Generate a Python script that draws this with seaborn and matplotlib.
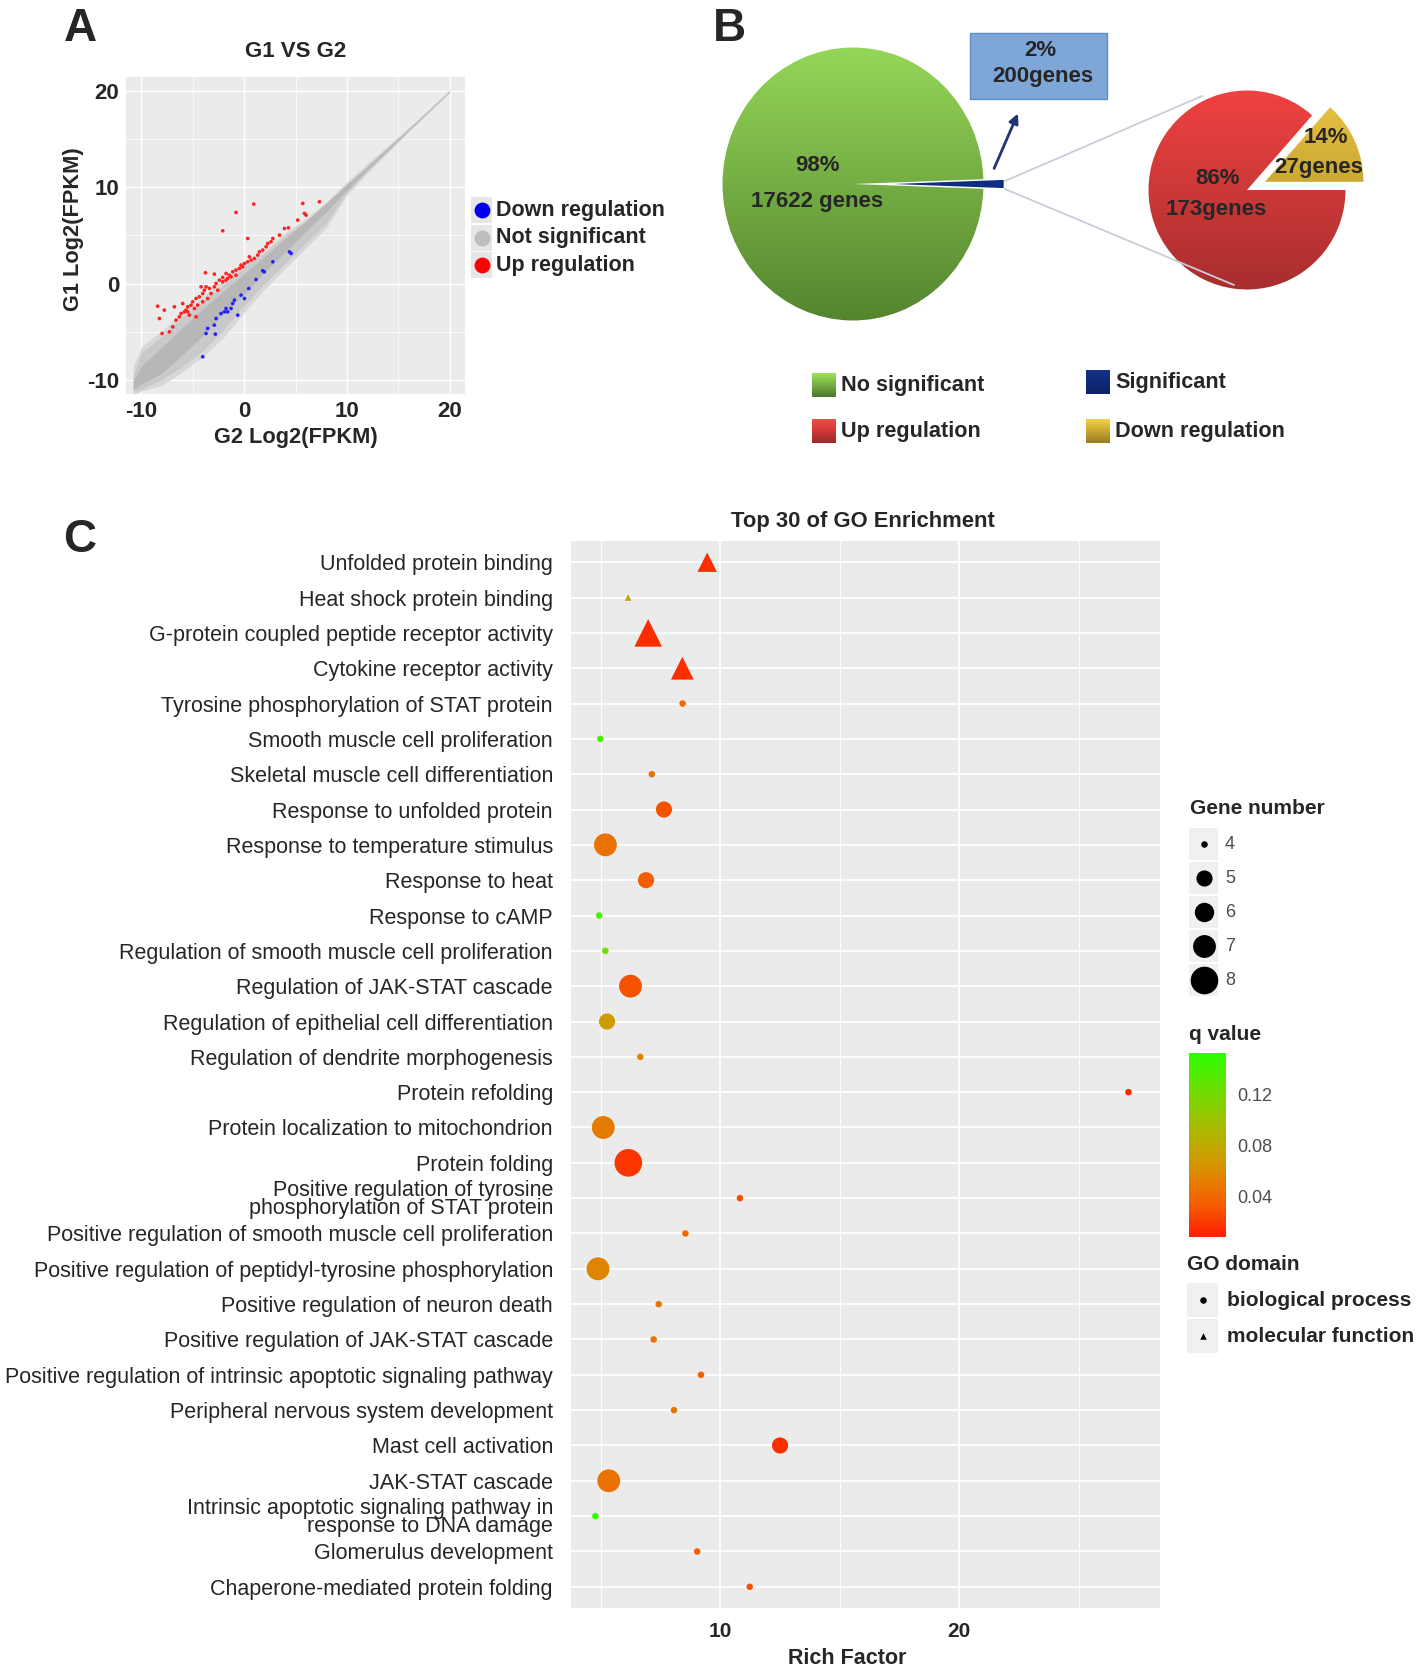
import numpy as np
import pandas as pd
import matplotlib
matplotlib.use("Agg")
import matplotlib.pyplot as plt
import seaborn as sns
from matplotlib.colors import LinearSegmentedColormap, Normalize
from matplotlib.cm import ScalarMappable
from matplotlib.patches import Rectangle

W, H = 1418, 1668

# ---------------- Painel A: G1 vs G2 ----------------
# envelope da nuvem cinza (nao significativos)
cloud_x = [-10.8, -10, -8, -6, -4, -2, 0, 2, 4, 6, 8, 10, 12, 16, 20]
halo_lo = [-11.5, -11.2, -10.6, -9.2, -7.6, -5.6, -3.0, -0.6, 1.6, 3.7, 5.8, 9.2, 11.5, 15.8, 19.88]
halo_hi = [-8.6, -6.6, -4.9, -3.0, -1.3, 0.4, 2.1, 3.5, 5.3, 6.8, 8.5, 10.6, 12.5, 16.2, 20.12]
outer_lo = [-11.3, -11.0, -10.0, -8.6, -7.0, -4.8, -2.3, 0.0, 2.1, 4.2, 6.3, 9.5, 11.7, 15.87, 19.92]
outer_hi = [-9.5, -7.2, -5.5, -3.5, -1.8, -0.1, 1.7, 3.2, 5.0, 6.5, 8.2, 10.4, 12.3, 16.13, 20.08]
inner_lo = [-11.0, -10.5, -9.3, -7.4, -5.4, -3.1, -1.1, 1.2, 3.3, 5.4, 7.5, 9.7, 11.85, 15.94, 19.96]
inner_hi = [-10.2, -8.6, -6.6, -4.6, -2.6, -0.8, 1.0, 2.8, 4.7, 6.5, 8.4, 10.3, 12.15, 16.06, 20.04]

up_x = [5.71, 7.33, 5.87, 6.03, 5.22, 3.92, 4.31, 3.44, 2.79, 2.62, 2.30, 2.14, 1.81, 1.49, 1.32,
        1.00, 0.68, 0.35, 0.03, -0.30, -0.46, -0.79, -1.11, -1.44, -1.60, -1.76, -2.08, -2.41,
        -2.73, -2.90, -3.38, -3.71, -3.87, -4.03, -4.36, -4.68, -5.01, -5.17, -5.49, -5.66,
        -5.82, -6.14, -6.31, -6.63, -6.95, -7.28, -7.99, -8.25, -8.42, -7.77, -6.79, -4.84,
        -4.68, -5.33, -3.77, -2.90, -2.08, -1.27, -0.79, -0.14, 0.51, 0.35, -2.08, -0.79, 0.94,
        -4.03, -3.22, -2.57, -3.55, -4.52, -5.98, -5.49, -4.19, -1.76]
up_y = [8.34, 8.51, 7.30, 7.12, 6.60, 5.73, 5.80, 5.04, 4.69, 4.35, 4.17, 3.83, 3.48, 3.30, 2.96,
        2.61, 2.44, 2.26, 2.09, 1.92, 1.57, 1.40, 1.22, 0.87, 0.53, 0.35, 0.18, 0.35,
        0.01, -0.34, -0.51, -0.34, -0.69, -1.04, -1.38, -1.56, -1.90, -2.25, -2.42, -2.77,
        -2.95, -3.12, -3.47, -3.81, -4.51, -5.03, -5.20, -3.64, -2.36, -2.77, -2.42, -2.60,
        -3.47, -3.29, 1.12, 0.98, 0.63, 0.70, 0.87, 1.74, 2.78, 4.69, 5.49, 7.40, 8.27,
        -1.90, -1.04, -0.69, -1.56, -2.25, -2.08, -2.95, -0.34, 1.05]
down_x = [4.41, 4.57, 2.79, 1.97, 1.81, 1.16, 0.45, -0.30, 0.03, -0.95, -1.11, -1.76, -1.92,
          -2.25, -2.73, -2.90, -3.55, -3.71, -2.80, -0.62, -4.03, -1.60, -1.27]
down_y = [3.30, 3.13, 2.26, 1.22, 1.33, 0.42, -0.52, -1.21, -1.56, -1.73, -2.08, -2.60, -2.95,
          -3.12, -3.64, -4.33, -4.68, -5.20, -5.27, -3.29, -7.63, -2.95, -2.60]

# ---------------- Painel B: pizzas ----------------
total_counts = [200, 17622]   # Significant, No significant
sig_counts = [27, 173]        # Down regulation, Up regulation

# ---------------- Painel C: GO ----------------
termos = [
    "Unfolded protein binding",
    "Heat shock protein binding",
    "G-protein coupled peptide receptor activity",
    "Cytokine receptor activity",
    "Tyrosine phosphorylation of STAT protein",
    "Smooth muscle cell proliferation",
    "Skeletal muscle cell differentiation",
    "Response to unfolded protein",
    "Response to temperature stimulus",
    "Response to heat",
    "Response to cAMP",
    "Regulation of smooth muscle cell proliferation",
    "Regulation of JAK-STAT cascade",
    "Regulation of epithelial cell differentiation",
    "Regulation of dendrite morphogenesis",
    "Protein refolding",
    "Protein localization to mitochondrion",
    "Protein folding",
    "Positive regulation of tyrosine\nphosphorylation of STAT protein",
    "Positive regulation of smooth muscle cell proliferation",
    "Positive regulation of peptidyl-tyrosine phosphorylation",
    "Positive regulation of neuron death",
    "Positive regulation of JAK-STAT cascade",
    "Positive regulation of intrinsic apoptotic signaling pathway",
    "Peripheral nervous system development",
    "Mast cell activation",
    "JAK-STAT cascade",
    "Intrinsic apoptotic signaling pathway in\nresponse to DNA damage",
    "Glomerulus development",
    "Chaperone-mediated protein folding",
]
rich_factor = [9.45, 6.14, 6.98, 8.41, 8.42, 4.98, 7.13, 7.64, 5.19, 6.89, 4.93, 5.19, 6.24, 5.26,
               6.65, 27.08, 5.1, 6.15, 10.82, 8.54, 4.88, 7.42, 7.21, 9.19, 8.06, 12.5, 5.33,
               4.77, 9.03, 11.23]
q_value = [0.015, 0.075, 0.015, 0.015, 0.04, 0.14, 0.045, 0.03, 0.045, 0.035, 0.14, 0.125, 0.03,
           0.07, 0.055, 0.01, 0.05, 0.018, 0.03, 0.04, 0.055, 0.045, 0.045, 0.035, 0.045, 0.015,
           0.045, 0.15, 0.035, 0.03]
gene_number = [6, 4, 8, 7, 4, 4, 4, 5, 7, 5, 4, 4, 7, 5, 4, 4, 7, 8, 4, 4, 7, 4, 4, 4, 4, 5, 7,
               4, 4, 4]
go_domain = ["molecular function"] * 4 + ["biological process"] * 26
gene_levels = [4, 5, 6, 7, 8]

sns.set_style("white")
plt.rcParams["font.family"] = ["Liberation Sans", "DejaVu Sans"]
plt.rcParams["axes.unicode_minus"] = False

fig = plt.figure(figsize=(W / 100, H / 100), dpi=100)


def px_axes(x0, y0, x1, y1):
    return fig.add_axes([x0 / W, 1 - y1 / H, (x1 - x0) / W, (y1 - y0) / H])


def gradient_fill(ax, patch, top, bottom, ext):
    cmap = LinearSegmentedColormap.from_list("g", [bottom, top])
    grad = np.linspace(1, 0, 256).reshape(-1, 1)
    im = ax.imshow(grad, cmap=cmap, vmin=0, vmax=1, extent=ext, aspect="auto",
                   origin="upper", zorder=patch.get_zorder())
    im.set_clip_path(patch)
    patch.set_facecolor("none")
    patch.set_edgecolor("none")


# ----- Painel A -----
axA = px_axes(126, 77, 465, 394)
axA.set_facecolor("#ebebeb")
axA.set_axisbelow(True)
axA.fill_between(cloud_x, halo_lo, halo_hi, color="#d8d8d8", lw=0, zorder=2)
axA.fill_between(cloud_x, outer_lo, outer_hi, color="#c9c9c9", lw=0, zorder=2)
axA.fill_between(cloud_x, inner_lo, inner_hi, color="#b7b7b7", lw=0, zorder=2)
df_a = pd.DataFrame({
    "x": up_x + down_x,
    "y": up_y + down_y,
    "grupo": ["Up regulation"] * len(up_x) + ["Down regulation"] * len(down_x),
})
sns.scatterplot(data=df_a, x="x", y="y", hue="grupo",
                palette={"Up regulation": "#ff2222", "Down regulation": "#2222ff"},
                s=7, linewidth=0, legend=False, ax=axA, zorder=3)
axA.set_xlim(-11.5, 21.5)
axA.set_ylim(-11.5, 21.5)
axA.set_xticks([-10, 0, 10, 20])
axA.set_yticks([-10, 0, 10, 20])
axA.set_xticks([-5, 5, 15], minor=True)
axA.set_yticks([-5, 5, 15], minor=True)
axA.grid(which="major", color="white", lw=1.0)
axA.grid(which="minor", color="white", lw=0.5)
axA.set_xlabel("")
axA.set_ylabel("")
for s in axA.spines.values():
    s.set_visible(False)
axA.tick_params(which="major", length=3, color="#333333", pad=2, labelsize=16)
axA.tick_params(which="minor", length=0)
for lab in axA.get_xticklabels() + axA.get_yticklabels():
    lab.set_fontweight("bold")

# ----- Painel B: pizzas -----
cx, cy, rx, ry = 853, 184, 130.5, 136.5
axL = px_axes(cx - 1.25 * rx, cy - 1.25 * ry, cx + 1.25 * rx, cy + 1.25 * ry)
ang = 360 * total_counts[0] / sum(total_counts)
wL, _ = axL.pie(total_counts, colors=["#0e2d80", "#7ab648"], startangle=-ang / 2,
                explode=[0.16, 0], radius=1)
gradient_fill(axL, wL[1], "#9ee35e", "#4b7829", (-1.3, 1.3, -1.3, 1.3))
axL.set_aspect("auto")
axL.set_xlim(-1.25, 1.25)
axL.set_ylim(-1.25, 1.25)
axL.axis("off")

cx2, cy2, rx2, ry2 = 1247, 190, 98.5, 99.5
axR = px_axes(cx2 - 1.4 * rx2, cy2 - 1.4 * ry2, cx2 + 1.4 * rx2, cy2 + 1.4 * ry2)
wR, _ = axR.pie(sig_counts, colors=["#e0b030", "#e03a3a"], startangle=0,
                explode=[0.2, 0], radius=1)
gradient_fill(axR, wR[1], "#ff4646", "#9a2a2a", (-1.4, 1.4, -1.4, 1.4))
gradient_fill(axR, wR[0], "#f8d048", "#9a7c1e", (-1.4, 1.4, -1.4, 1.4))
axR.set_aspect("auto")
axR.set_xlim(-1.4, 1.4)
axR.set_ylim(-1.4, 1.4)
axR.axis("off")

# ----- Painel C -----
df_c = pd.DataFrame({"termo": termos, "rich": rich_factor, "q": q_value,
                     "genes": gene_number, "domain": go_domain})
cmap_q = LinearSegmentedColormap.from_list(
    "q", ["#ff1e00", "#f26400", "#d49600", "#a8bc00", "#6ede00", "#2cff00"])
norm_q = Normalize(0.008, 0.1525)
size_map = {4: 22, 5: 135, 6: 195, 7: 270, 8: 395}

axC = px_axes(571, 541, 1160, 1608)
axC.set_facecolor("#ebebeb")
axC.set_axisbelow(True)
sns.scatterplot(data=df_c, x="rich", y="termo", hue="q", palette=cmap_q, hue_norm=norm_q,
                size="genes", sizes=size_map, style="domain",
                markers={"biological process": "o", "molecular function": "^"},
                linewidth=0, legend=False, ax=axC, zorder=3)
axC.set_ylim(len(termos) - 0.4, -0.6)
axC.set_xlim(3.75, 28.4)
axC.set_xticks([10, 20])
axC.set_xticks([5, 15, 25], minor=True)
axC.grid(which="major", color="white", lw=1.3)
axC.grid(which="minor", axis="x", color="white", lw=0.7)
for s in axC.spines.values():
    s.set_visible(False)
axC.tick_params(axis="y", length=4, color="#333333", pad=9, labelsize=15.5)
axC.tick_params(axis="x", which="major", length=4, color="#333333", pad=6, labelsize=15)
axC.tick_params(which="minor", length=0)
for lab in axC.get_yticklabels():
    lab.set_linespacing(0.85)
for lab in axC.get_xticklabels():
    lab.set_fontweight("bold")
axC.set_ylabel("")
axC.set_xlabel("")

cax = px_axes(1189, 1053, 1226, 1237)
cb = fig.colorbar(ScalarMappable(norm=norm_q, cmap=cmap_q), cax=cax, ticks=[0.04, 0.08, 0.12])
cb.outline.set_visible(False)
cax.tick_params(color="white", length=6, width=1, direction="in", labelsize=13,
                labelcolor="#4d4d4d", pad=8, left=True)

# ----- Camada de anotacoes (coordenadas em pixels) -----
ov = fig.add_axes([0, 0, 1, 1])
ov.patch.set_alpha(0)

# letras dos paineis
for letra, (lx, ly) in {"A": (80, 41), "B": (729, 41), "C": (80, 552)}.items():
    ov.text(lx, ly, letra, fontsize=33, fontweight="bold", ha="center", va="baseline")

# textos painel A
ov.text(296, 51, "G1 VS G2", fontsize=16, fontweight="bold", ha="center", va="center")
ov.text(296, 437, "G2 Log2(FPKM)", fontsize=15.7, fontweight="bold", ha="center", va="center")
ov.text(74, 229, "G1 Log2(FPKM)", fontsize=15.7, fontweight="bold", ha="center", va="center",
        rotation=90)
for i, (nome, cor) in enumerate([("Down regulation", "#0000ee"),
                                 ("Not significant", "#bebebe"),
                                 ("Up regulation", "#ff0000")]):
    ky = 210 + i * 27.5
    ov.add_patch(Rectangle((471, ky - 13), 21, 26, facecolor="#e6e6e6", edgecolor="none"))
    ov.scatter([481.5], [ky], s=130, color=cor, linewidth=0)
    ov.text(496, ky, nome, fontsize=15.5, fontweight="bold", va="center")

# textos painel B
ov.text(817, 165, "98%", fontsize=16, fontweight="bold", ha="center", va="center")
ov.text(817, 201, "17622 genes", fontsize=16, fontweight="bold", ha="center", va="center")
ov.text(1218, 178, "86%", fontsize=16, fontweight="bold", ha="center", va="center")
ov.text(1216, 209, "173genes", fontsize=16, fontweight="bold", ha="center", va="center")
ov.text(1326, 137, "14%", fontsize=16, fontweight="bold", ha="center", va="center")
ov.text(1319, 167, "27genes", fontsize=16, fontweight="bold", ha="center", va="center")
ov.add_patch(Rectangle((970, 33), 137, 66, facecolor="#7ea7d8", edgecolor="#5f8fc8", lw=1))
ov.text(1040, 50, "2%", fontsize=16, fontweight="bold", ha="center", va="center")
ov.text(1043, 76, "200genes", fontsize=16, fontweight="bold", ha="center", va="center")
ov.annotate("", xy=(1019, 111), xytext=(993, 171),
            arrowprops=dict(arrowstyle="-|>", color="#1d3575", lw=2, mutation_scale=14))
ov.plot([1005, 1202], [181, 96], color="#c9cdd9", lw=1.3)
ov.plot([1005, 1234], [189, 285], color="#c9cdd9", lw=1.3)

legB = [("No significant", 812, 385, "#9ee35e", "#4b7829"),
        ("Significant", 1086, 382, "#12318c", "#0a2266"),
        ("Up regulation", 812, 431, "#ff4646", "#9a2a2a"),
        ("Down regulation", 1086, 431, "#f8d048", "#9a7c1e")]
for nome, kx, ky, top, bot in legB:
    r = Rectangle((kx, ky - 12), 24, 24, facecolor="none", edgecolor="none")
    ov.add_patch(r)
    gradient_fill(ov, r, top, bot, (kx, kx + 24, ky + 12, ky - 12))
    ov.text(kx + 29, ky, nome, fontsize=15.6, fontweight="bold", va="center")

# titulo, eixo e legendas painel C
ov.text(863, 521, "Top 30 of GO Enrichment", fontsize=15.8, fontweight="bold",
        ha="center", va="center")
ov.text(847, 1658, "Rich Factor", fontsize=15.5, fontweight="bold", ha="center", va="center")
ov.text(1190, 808, "Gene number", fontsize=15, fontweight="bold", va="center")
for i, g in enumerate(gene_levels):
    ky = 844 + i * 34
    ov.add_patch(Rectangle((1189, ky - 16), 29, 32, facecolor="#f0f0f0", edgecolor="none"))
    ov.scatter([1203.5], [ky], s=size_map[g], color="black", linewidth=0)
    ov.text(1225, ky, str(g), fontsize=13, color="#4d4d4d", va="center")
ov.text(1189, 1034, "q value", fontsize=15, fontweight="bold", va="center")
ov.text(1187, 1265, "GO domain", fontsize=15, fontweight="bold", va="center")
for i, (nome, mk) in enumerate([("biological process", "o"), ("molecular function", "^")]):
    ky = 1300 + i * 36
    ov.add_patch(Rectangle((1187, ky - 17), 31, 34, facecolor="#f0f0f0", edgecolor="none"))
    ov.scatter([1202.5], [ky], s=22, color="black", marker=mk, linewidth=0)
    ov.text(1227, ky, nome, fontsize=15, fontweight="bold", va="center")

ov.set_xlim(0, W)
ov.set_ylim(H, 0)
ov.axis("off")

fig.savefig("out.png", dpi=100)
